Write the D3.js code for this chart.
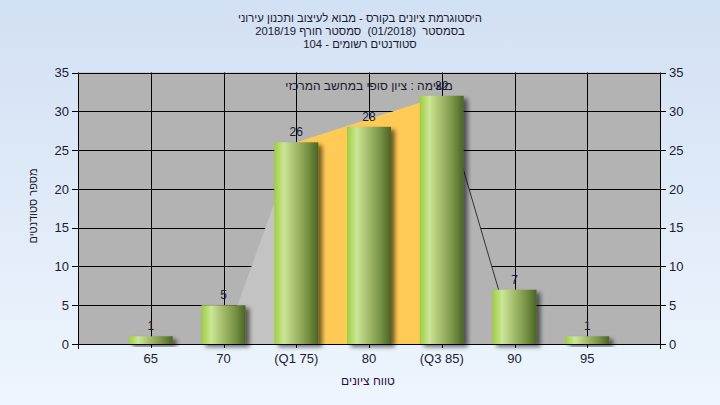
<!DOCTYPE html>
<html><head><meta charset="utf-8">
<script src="https://cdn.jsdelivr.net/npm/d3@7"></script>
<style>html,body{margin:0;padding:0;}svg{display:block;}text{white-space:pre;}</style>
</head><body>
<script>
const categories = ["65","70","(Q1 75)","80","(Q3 85)","90","95"];
const counts = [1,5,26,28,32,7,1];
const yTicks = [0,5,10,15,20,25,30,35];
const boxCats = ["70","(Q1 75)","(Q3 85)","90"];
const boxVals = [0,26,32,0];
const titleLines = ["היסטוגרמת ציונים בקורס - מבוא לעיצוב ותכנון עירוני","בסמסטר  (01/2018)  סמסטר חורף 2018/19","סטודנטים רשומים - 104"];
const subTitle = "משימה : ציון סופי במחשב המרכזי";
const xTitle = "טווח ציונים";
const yTitle = "מספר סטודנטים";

const W=720,H=405, L=78, R=660, T=72.5, B=344;
const svg=d3.select("body").append("svg").attr("width",W).attr("height",H);
const defs=svg.append("defs");
const bg=defs.append("linearGradient").attr("id","bg").attr("x1",0).attr("y1",0).attr("x2",0).attr("y2",1);
bg.append("stop").attr("offset","0%").attr("stop-color","#d2e0f3");
bg.append("stop").attr("offset","100%").attr("stop-color","#eef5fd");
const bar=defs.append("linearGradient").attr("id","bar").attr("x1",0).attr("y1",0).attr("x2",1).attr("y2",0);
[["0%","#9fcd3f"],["22%","#cbe696"],["45%","#a9c272"],["75%","#7a9446"],["100%","#4a6424"]].forEach(s=>bar.append("stop").attr("offset",s[0]).attr("stop-color",s[1]));
const f=defs.append("filter").attr("id","sh").attr("x","-20%").attr("y","-20%").attr("width","150%").attr("height","150%");
f.append("feDropShadow").attr("dx",4).attr("dy",3).attr("stdDeviation",2).attr("flood-color","#000").attr("flood-opacity",0.55);

svg.append("rect").attr("width",W).attr("height",H).attr("fill","url(#bg)");

const x=d3.scalePoint().domain(categories).range([L,R]).padding(1);
const y=d3.scaleLinear().domain([0,35]).range([B,T]);

svg.append("rect").attr("x",L).attr("y",T).attr("width",R-L).attr("height",B-T).attr("fill","#b3b3b3");

// grid
const g=svg.append("g");
g.selectAll(".hg").data(yTicks).join("line").attr("x1",L).attr("x2",R).attr("y1",d=>Math.round(y(d))+0.5).attr("y2",d=>Math.round(y(d))+0.5).attr("stroke","#000");
g.selectAll(".vg").data(categories).join("line").attr("x1",d=>Math.round(x(d))+0.5).attr("x2",d=>Math.round(x(d))+0.5).attr("y1",T).attr("y2",B+4).attr("stroke","#000");

// box area
const pts=boxCats.map((c,i)=>[x(c),y(boxVals[i])]);
svg.append("path").attr("d",d3.line()([pts[0],pts[1],[pts[1][0],y(0)]])+"Z").attr("fill","#c3c3c3");
svg.append("path").attr("d",d3.line()([[pts[1][0],y(0)],pts[1],pts[2],[pts[2][0],y(0)]])+"Z").attr("fill","#ffcb55");
svg.append("path").attr("d",d3.line()([[pts[2][0],y(0)],pts[2],pts[3]])+"Z").attr("fill","#b3b3b3");
svg.append("path").attr("d",d3.line()([pts[2],pts[3]])).attr("stroke","#333").attr("stroke-width",1).attr("fill","none");

// bars
const bw=44;
svg.append("g").selectAll("rect").data(counts).join("rect")
 .attr("x",(d,i)=>x(categories[i])-bw/2).attr("y",d=>y(d)).attr("width",bw).attr("height",d=>y(0)-y(d))
 .attr("fill","url(#bar)").attr("filter","url(#sh)");

// axes lines
svg.append("line").attr("x1",L).attr("x2",R).attr("y1",B+0.5).attr("y2",B+0.5).attr("stroke","#000");
svg.append("line").attr("x1",L+0.5).attr("x2",L+0.5).attr("y1",T).attr("y2",B+5).attr("stroke","#000");
svg.append("line").attr("x1",R+0.5).attr("x2",R+0.5).attr("y1",T).attr("y2",B+5).attr("stroke","#000");

const font="'Liberation Sans', Arial, sans-serif";
const tc="#1b1b33";
// y ticks left
const yl=svg.append("g");
yl.selectAll("line").data(yTicks).join("line").attr("x1",L-6).attr("x2",L).attr("y1",d=>Math.round(y(d))+0.5).attr("y2",d=>Math.round(y(d))+0.5).attr("stroke","#000");
yl.selectAll("text").data(yTicks).join("text").attr("x",L-9).attr("y",d=>y(d)).attr("dy","0.36em").attr("text-anchor","end")
 .attr("font-family",font).attr("font-size",13).attr("fill",tc).text(d=>d);
const yr=svg.append("g");
yr.selectAll("line").data(yTicks).join("line").attr("x1",R).attr("x2",R+6).attr("y1",d=>Math.round(y(d))+0.5).attr("y2",d=>Math.round(y(d))+0.5).attr("stroke","#000");
yr.selectAll("text").data(yTicks).join("text").attr("x",R+9).attr("y",d=>y(d)).attr("dy","0.36em").attr("text-anchor","start")
 .attr("font-family",font).attr("font-size",13).attr("fill",tc).text(d=>d);

// x labels
svg.append("g").selectAll("text").data(categories).join("text").attr("x",d=>x(d)).attr("y",B+19).attr("text-anchor","middle")
 .attr("font-family",font).attr("font-size",13).attr("fill",tc).text(d=>d);

// value labels
svg.append("g").selectAll("text").data(counts).join("text").attr("x",(d,i)=>x(categories[i])).attr("y",d=>y(d)-6).attr("text-anchor","middle")
 .attr("font-family",font).attr("font-size",12).attr("fill",tc).text(d=>d);

// titles
svg.append("g").selectAll("text").data(titleLines).join("text").attr("x",360).attr("y",(d,i)=>22+i*13).attr("text-anchor","middle")
 .attr("direction","rtl").attr("font-family",font).attr("font-size",11.3).attr("fill","#1a1a2e").text(d=>d);
svg.append("text").attr("x",369).attr("y",90).attr("text-anchor","middle").attr("direction","rtl")
 .attr("font-family",font).attr("font-size",12).attr("fill","#1a1a2e").text(subTitle);
svg.append("text").attr("x",368).attr("y",385).attr("text-anchor","middle").attr("direction","rtl")
 .attr("font-family",font).attr("font-size",12).attr("fill","#2a0f4a").text(xTitle);
svg.append("text").attr("transform","translate(37,206) rotate(-90)").attr("text-anchor","middle").attr("direction","rtl")
 .attr("font-family",font).attr("font-size",11).attr("fill","#1a1a2e").text(yTitle);
</script>
</body></html>
